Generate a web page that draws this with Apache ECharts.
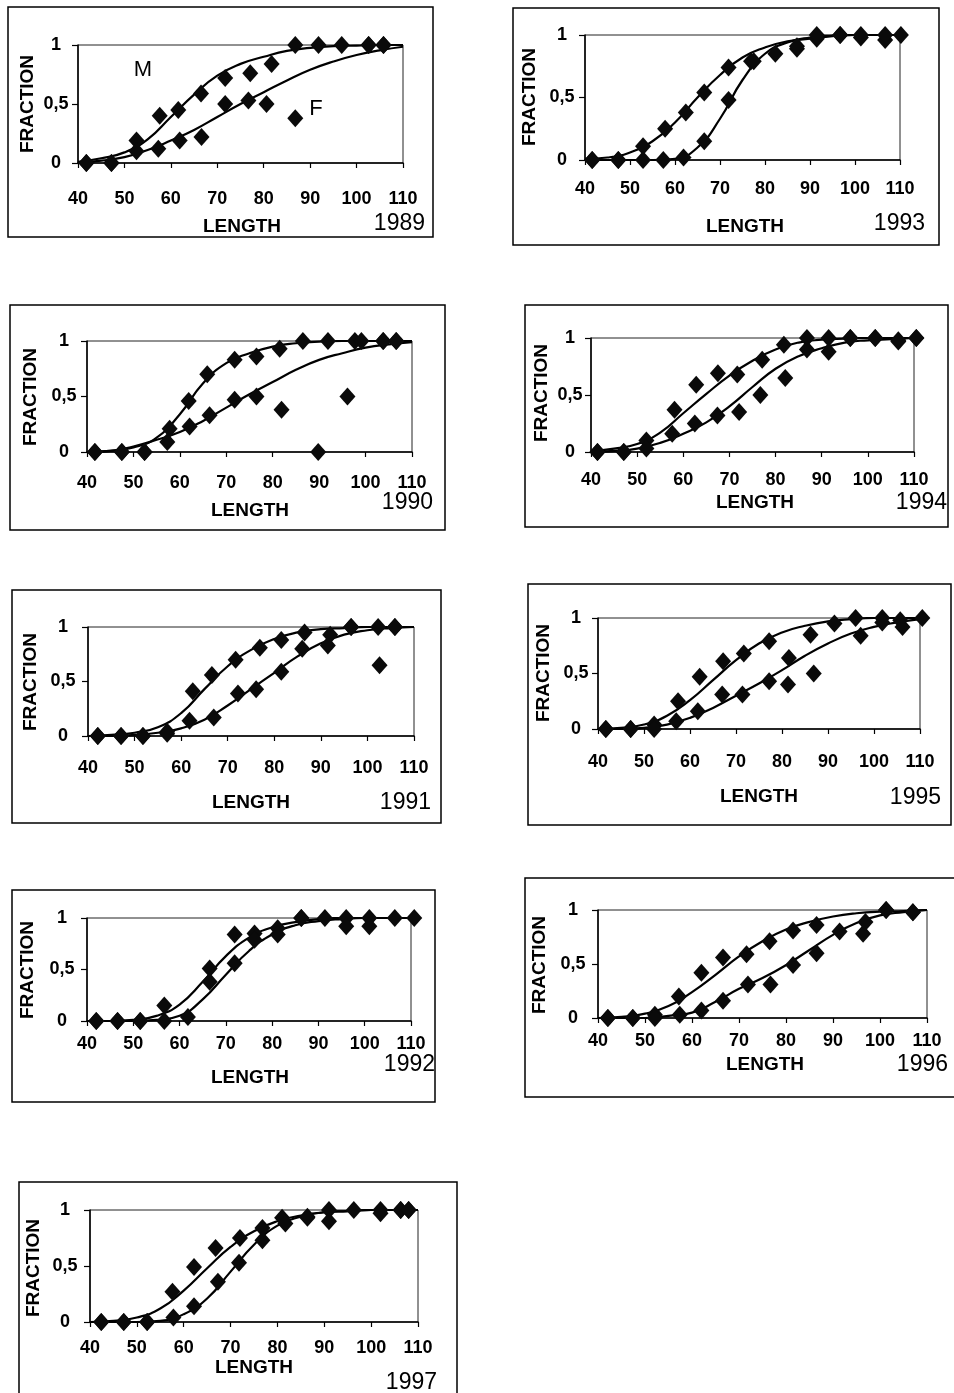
<!DOCTYPE html>
<html>
<head>
<meta charset="utf-8">
<script src="https://cdn.jsdelivr.net/npm/echarts@6/dist/echarts.min.js"></script>
<style>
html,body{margin:0;padding:0;background:#fff;}
#chart{width:954px;height:1393px;}
</style>
</head>
<body>
<div id="chart"></div>
<script>
// ---------- DATA ----------
const xTicks = [40, 50, 60, 70, 80, 90, 100, 110];
const yTickLabels = ['0', '0,5', '1'];
const curveX = [40, 45, 50, 55, 60, 65, 70, 75, 80, 85, 90, 95, 100, 105, 110];

// 1989
const pts1989M = [[41.8,0],[47.2,0],[52.6,0.19],[57.6,0.40],[61.6,0.45],[66.5,0.59],[71.7,0.72],[77.1,0.76],[81.7,0.84],[86.8,1],[91.8,1],[96.8,1],[102.6,1],[105.8,1]];
const pts1989F = [[41.8,0],[47.2,0],[52.6,0.10],[57.3,0.12],[61.9,0.19],[66.6,0.22],[71.7,0.50],[76.7,0.53],[80.6,0.50],[86.8,0.38],[102.6,1],[105.8,1]];
const curve1989M = [0.01,0.04,0.09,0.20,0.39,0.58,0.74,0.84,0.90,0.95,0.975,0.99,0.995,1,1];
const curve1989F = [0,0.02,0.05,0.11,0.19,0.28,0.39,0.50,0.60,0.70,0.79,0.86,0.915,0.955,0.985];

// 1993
const pts1993M = [[41.6,0],[47.4,0],[52.9,0.11],[57.8,0.25],[62.4,0.38],[66.5,0.54],[71.9,0.74],[76.9,0.79],[87.1,0.89],[91.5,0.97],[96.7,1],[101.3,0.98],[106.7,0.96],[110.2,1]];
const pts1993F = [[41.6,0],[47.4,0],[52.9,0],[57.4,0],[61.9,0.02],[66.5,0.15],[71.9,0.48],[77.5,0.79],[82.3,0.85],[87.1,0.91],[91.5,1],[96.7,1],[101.3,1],[106.7,1]];
const curve1993M = [0.01,0.02,0.06,0.15,0.30,0.50,0.68,0.82,0.90,0.95,0.97,0.99,1,1,1];
const curve1993F = [0,0,0,0,0.01,0.10,0.33,0.64,0.85,0.94,0.98,0.995,1,1,1];

// 1990
const pts1990M = [[41.7,0],[47.5,0],[52.4,0],[57.8,0.21],[61.9,0.46],[65.9,0.70],[71.8,0.83],[76.5,0.86],[81.5,0.93],[86.5,1],[91.9,1],[97.7,1],[103.8,1],[106.6,1]];
const pts1990F = [[41.7,0],[47.5,0],[52.4,0],[57.3,0.09],[62.1,0.23],[66.4,0.33],[71.8,0.47],[76.5,0.50],[81.9,0.38],[89.8,0],[96.1,0.50],[99.1,1],[103.8,1],[106.6,1]];
const curve1990M = [0,0.01,0.04,0.13,0.34,0.62,0.80,0.89,0.95,0.98,0.995,1,1,1,1];
const curve1990F = [0,0.01,0.05,0.11,0.18,0.28,0.40,0.52,0.63,0.74,0.83,0.89,0.94,0.97,0.99];

// 1994
const pts1994M = [[41.4,0],[47.1,0],[52,0.10],[58.1,0.37],[62.8,0.59],[67.5,0.69],[71.7,0.68],[77.1,0.81],[81.8,0.94],[86.8,1],[91.5,1],[96.2,1],[101.6,1],[106.6,0.98],[110.5,1]];
const pts1994F = [[41.4,0],[47.1,0],[52,0.03],[57.6,0.16],[62.5,0.25],[67.4,0.32],[72.1,0.35],[76.7,0.50],[82.1,0.65],[86.8,0.90],[91.5,0.88],[96.2,1],[101.6,1],[106.6,0.97],[110.5,1]];
const curve1994M = [0.01,0.03,0.07,0.17,0.34,0.51,0.67,0.80,0.90,0.96,0.985,0.995,1,1,1];
const curve1994F = [0,0.01,0.03,0.08,0.16,0.26,0.40,0.57,0.73,0.84,0.91,0.96,0.98,0.99,1];

// 1991
const pts1991M = [[42.1,0],[47.1,0],[51.8,0],[57,0.04],[62.5,0.41],[66.6,0.56],[71.7,0.70],[76.9,0.81],[81.5,0.88],[86.5,0.95],[92,0.93],[96.5,1],[102.3,1],[105.9,1]];
const pts1991F = [[42.1,0],[47.1,0],[51.8,0],[57,0.02],[61.8,0.14],[67,0.17],[72.2,0.39],[76.1,0.43],[81.5,0.59],[86,0.80],[91.5,0.83],[96.5,1],[102.6,0.65],[105.9,1]];
const curve1991M = [0,0.01,0.03,0.08,0.21,0.43,0.64,0.79,0.89,0.95,0.98,0.99,1,1,1];
const curve1991F = [0,0,0.01,0.03,0.07,0.15,0.28,0.43,0.58,0.73,0.85,0.93,0.97,0.99,1];

// 1995
const pts1995M = [[41.7,0],[47.1,0],[52.2,0.04],[57.4,0.25],[62.1,0.47],[67.2,0.61],[71.7,0.68],[77.2,0.79],[86.2,0.85],[91.4,0.95],[96,1],[101.8,1],[105.7,0.98]];
const pts1995F = [[41.7,0],[47.1,0],[52.2,0],[57,0.07],[61.7,0.16],[67,0.31],[71.4,0.31],[77.2,0.43],[81.3,0.40],[81.5,0.64],[86.9,0.50],[97.1,0.84],[101.8,0.96],[106.2,0.92],[110.5,1]];
const curve1995M = [0,0.01,0.04,0.12,0.26,0.44,0.62,0.77,0.87,0.93,0.97,0.99,1,1,1];
const curve1995F = [0,0,0.01,0.04,0.10,0.19,0.30,0.41,0.53,0.66,0.77,0.86,0.92,0.96,0.99];

// 1992
const pts1992M = [[42,0],[46.6,0],[51.5,0],[56.7,0.15],[66.5,0.51],[71.9,0.84],[76.2,0.85],[81.2,0.90],[86.3,1],[91.4,1],[96,1],[101,1],[106.5,1],[110.7,1]];
const pts1992F = [[42,0],[46.6,0],[51.5,0],[56.7,0],[61.8,0.04],[66.5,0.38],[71.9,0.56],[76.2,0.79],[81.2,0.84],[86.3,1],[96,0.92],[101,0.92]];
const curve1992M = [0,0,0.01,0.05,0.16,0.38,0.63,0.81,0.91,0.96,0.99,1,1,1,1];
const curve1992F = [0,0,0,0.01,0.05,0.21,0.45,0.68,0.84,0.93,0.97,0.99,1,1,1];

// 1996
const pts1996M = [[42.1,0],[47.4,0],[52.1,0.03],[57.2,0.20],[62,0.42],[66.6,0.56],[71.6,0.59],[76.5,0.71],[81.5,0.81],[86.5,0.86],[101.3,1],[107,0.98]];
const pts1996F = [[42.1,0],[47.4,0],[52.1,0],[57.4,0.03],[62,0.07],[66.6,0.16],[71.9,0.31],[76.7,0.31],[81.5,0.49],[86.5,0.60],[91.4,0.80],[96.4,0.78],[96.9,0.89],[101.3,1],[107,0.98]];
const curve1996M = [0,0.01,0.04,0.11,0.24,0.40,0.57,0.71,0.82,0.89,0.94,0.97,0.985,0.99,1];
const curve1996F = [0,0,0,0.02,0.05,0.15,0.27,0.37,0.49,0.63,0.77,0.88,0.95,0.98,1];

// 1997
const pts1997M = [[42.4,0],[47.2,0],[52.2,0],[57.6,0.27],[62.2,0.49],[66.8,0.66],[72,0.75],[76.8,0.84],[81,0.93],[86.4,0.94],[91,1],[96.3,1],[102,1],[106.3,1],[108,1]];
const pts1997F = [[42.4,0],[47.2,0],[52.2,0],[57.8,0.04],[62.2,0.14],[67.3,0.36],[71.8,0.53],[76.8,0.73],[81.7,0.88],[86.4,0.93],[91,0.90],[102,0.97],[106.3,1],[108,1]];
const curve1997M = [0,0.01,0.04,0.12,0.28,0.48,0.67,0.81,0.90,0.95,0.98,0.99,1,1,1];
const curve1997F = [0,0,0,0.01,0.07,0.21,0.45,0.69,0.86,0.94,0.98,0.99,1,1,1];

const years = ['1989','1993','1990','1994','1991','1995','1992','1996','1997'];
const ptsM = [pts1989M, pts1993M, pts1990M, pts1994M, pts1991M, pts1995M, pts1992M, pts1996M, pts1997M];
const ptsF = [pts1989F, pts1993F, pts1990F, pts1994F, pts1991F, pts1995F, pts1992F, pts1996F, pts1997F];
const curvesM = [curve1989M, curve1993M, curve1990M, curve1994M, curve1991M, curve1995M, curve1992M, curve1996M, curve1997M];
const curvesF = [curve1989F, curve1993F, curve1990F, curve1994F, curve1991F, curve1995F, curve1992F, curve1996F, curve1997F];

// ---------- LAYOUT ----------
const layout = [
  {g:[78,45,325,118],   box:[8,7,425,230],    xm:27, ym:22, len:[242,227],  yr:[425,224],  fr:[28,104]},
  {g:[585,35,315,125],  box:[513,8,426,237],  xm:20, ym:23, len:[745,227],  yr:[925,224],  fr:[530,97]},
  {g:[87,341,325,111],  box:[10,305,435,225], xm:22, ym:23, len:[250,511],  yr:[433,503],  fr:[31,397]},
  {g:[591,338,323,114], box:[525,305,423,222],xm:19, ym:21, len:[755,503],  yr:[947,503],  fr:[542,393]},
  {g:[88,627,326,109],  box:[12,590,429,233], xm:23, ym:25, len:[251,803],  yr:[431,803],  fr:[31,682]},
  {g:[598,618,322,111], box:[528,584,423,241],xm:24, ym:22, len:[759,797],  yr:[941,798],  fr:[544,673]},
  {g:[87,918,324,103],  box:[12,890,423,212], xm:14, ym:25, len:[250,1078], yr:[435,1065], fr:[28,970]},
  {g:[598,910,329,108], box:[525,878,440,219],xm:14, ym:25, len:[765,1065], yr:[948,1065], fr:[540,965]},
  {g:[90,1210,328,112], box:[19,1182,438,220],xm:17, ym:25, len:[254,1368], yr:[437,1383], fr:[34,1268]}
];

const FONT = '"Liberation Sans", Arial, sans-serif';
const grids = [], xAxes = [], yAxes = [], series = [], graphics = [];

layout.forEach((L, i) => {
  grids.push({left:L.g[0], top:L.g[1], width:L.g[2], height:L.g[3], show:true, borderColor:'#222', borderWidth:1, backgroundColor:'rgba(0,0,0,0)'});
  xAxes.push({
    gridIndex:i, type:'value', min:xTicks[0], max:xTicks[xTicks.length-1], interval:10,
    axisLine:{onZero:false, lineStyle:{color:'#000', width:1.5}},
    axisTick:{length:5, lineStyle:{color:'#000', width:1.2}},
    axisLabel:{margin:L.xm, fontSize:18, fontWeight:'bold', color:'#000', fontFamily:FONT},
    splitLine:{show:false}
  });
  yAxes.push({
    gridIndex:i, type:'value', min:0, max:1, interval:0.5,
    axisLine:{show:true, onZero:false, lineStyle:{color:'#000', width:1.5}},
    axisTick:{show:true, length:6, lineStyle:{color:'#000', width:1.2}},
    axisLabel:{margin:L.ym, align:'center', fontSize:18, fontWeight:'bold', color:'#000', fontFamily:FONT,
      formatter: v => yTickLabels[Math.round(v*2)]},
    splitLine:{show:false}
  });
  [curvesM[i], curvesF[i]].forEach((c, k) => {
    series.push({
      type:'line', name:(k===0?'M':'F')+' '+years[i], xAxisIndex:i, yAxisIndex:i,
      data: curveX.map((x, j) => [x, c[j]]),
      smooth:0.5, showSymbol:false, silent:true,
      lineStyle:{color:'#000', width:2.2}, z:2
    });
  });
  [ptsM[i], ptsF[i]].forEach((p, k) => {
    series.push({
      type:'scatter', name:(k===0?'M':'F')+' pts '+years[i], xAxisIndex:i, yAxisIndex:i,
      data:p, symbol:'diamond', symbolSize:[16,18], clip:false,
      itemStyle:{color:'#0a0a0a', opacity:1}, z:3
    });
  });
  graphics.push({type:'rect', shape:{x:L.box[0], y:L.box[1], width:L.box[2], height:L.box[3]},
    style:{fill:'none', stroke:'#000', lineWidth:1.5}, z:0, silent:true});
  graphics.push({type:'text', x:L.len[0], y:L.len[1],
    style:{text:'LENGTH', font:'bold 19px '+FONT, fill:'#000', textAlign:'center', textVerticalAlign:'middle'}});
  graphics.push({type:'text', x:L.yr[0], y:L.yr[1],
    style:{text:years[i], font:'23px '+FONT, fill:'#000', textAlign:'right', textVerticalAlign:'middle'}});
  graphics.push({type:'text', x:L.fr[0], y:L.fr[1], rotation:Math.PI/2,
    style:{text:'FRACTION', font:'bold 19px '+FONT, fill:'#000', textAlign:'center', textVerticalAlign:'middle'}});
});

graphics.push({type:'text', x:143, y:70, style:{text:'M', font:'22px '+FONT, fill:'#000', textAlign:'center', textVerticalAlign:'middle'}});
graphics.push({type:'text', x:316, y:109, style:{text:'F', font:'22px '+FONT, fill:'#000', textAlign:'center', textVerticalAlign:'middle'}});

const chart = echarts.init(document.getElementById('chart'), null, {renderer:'canvas', width:954, height:1393});
chart.setOption({
  animation:false,
  backgroundColor:'#fff',
  grid:grids, xAxis:xAxes, yAxis:yAxes, series:series, graphic:graphics
});
</script>
</body>
</html>
